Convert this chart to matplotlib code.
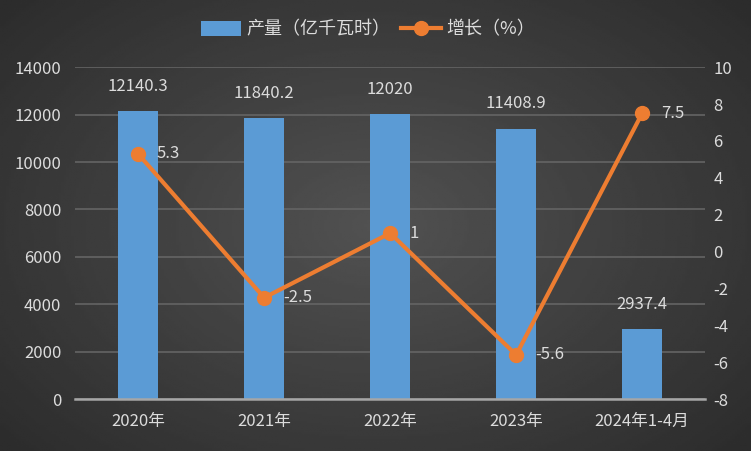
import numpy as np
import matplotlib
matplotlib.use('Agg')
import matplotlib.pyplot as plt

plt.rcParams['font.family'] = ['Noto Sans CJK SC', 'DejaVu Sans']
plt.rcParams['axes.unicode_minus'] = False

categories = ['2020年', '2021年', '2022年', '2023年', '2024年1-4月']
output = [12140.3, 11840.2, 12020, 11408.9, 2937.4]
output_labels = ['12140.3', '11840.2', '12020', '11408.9', '2937.4']
growth = [5.3, -2.5, 1, -5.6, 7.5]
growth_labels = ['5.3', '-2.5', '1', '-5.6', '7.5']

txt = '#dcdcdc'
fig = plt.figure(figsize=(7.51, 4.51), dpi=100)

# dark radial background
bg = fig.add_axes([0, 0, 1, 1])
yy, xx = np.mgrid[-1:1:200j, -1:1:300j]
r = np.sqrt(xx ** 2 + (yy * 0.9) ** 2)
bg.imshow(0.32 - 0.11 * r, cmap='gray', vmin=0, vmax=1, aspect='auto', extent=[0, 1, 0, 1])
bg.axis('off')

ax = fig.add_axes([0.1, 0.115, 0.839, 0.736])
ax.patch.set_alpha(0)
x = np.arange(len(categories))
ax.bar(x, output, width=0.32, color='#5b9bd5', zorder=2, label='产量（亿千瓦时）')
ax.set_ylim(0, 14000)
ax.set_xlim(-0.5, len(categories) - 0.5)
ax.set_yticks(np.arange(0, 14001, 2000))
ax.grid(axis='y', color='#646464', linewidth=1.2, zorder=0)
for s in ['top', 'right', 'left']:
    ax.spines[s].set_visible(False)
ax.spines['bottom'].set_color('#a6a6a6')
ax.spines['bottom'].set_linewidth(1.8)
ax.tick_params(axis='both', length=0, colors=txt, labelsize=12)
ax.tick_params(axis='y', pad=10)
ax.set_xticks(x)
ax.set_xticklabels(categories)
ax.tick_params(axis='x', pad=10)
for xi, v, lab in zip(x, output, output_labels):
    ax.text(xi, v + 700, lab, ha='center', va='bottom', color=txt, fontsize=12)

ax2 = ax.twinx()
ax2.plot(x, growth, color='#ed7d31', linewidth=3, marker='o', markersize=10, zorder=3, label='增长（%）')
ax2.set_ylim(-8, 10)
ax2.set_yticks(np.arange(-8, 11, 2))
for s in ['top', 'right', 'left', 'bottom']:
    ax2.spines[s].set_visible(False)
ax2.tick_params(axis='y', length=0, colors=txt, labelsize=12, pad=6)
for xi, v, lab in zip(x, growth, growth_labels):
    ax2.text(xi + 0.15, v, lab, ha='left', va='center', color=txt, fontsize=12)

h1, l1 = ax.get_legend_handles_labels()
h2, l2 = ax2.get_legend_handles_labels()
leg = fig.legend(h1 + h2, l1 + l2, loc='upper center', bbox_to_anchor=(0.49, 0.99), ncol=2,
                 frameon=False, fontsize=13, handlelength=2.2, handleheight=0.9,
                 columnspacing=0.6, handletextpad=0.3)
for t in leg.get_texts():
    t.set_color(txt)

fig.savefig('out.png', dpi=100)
